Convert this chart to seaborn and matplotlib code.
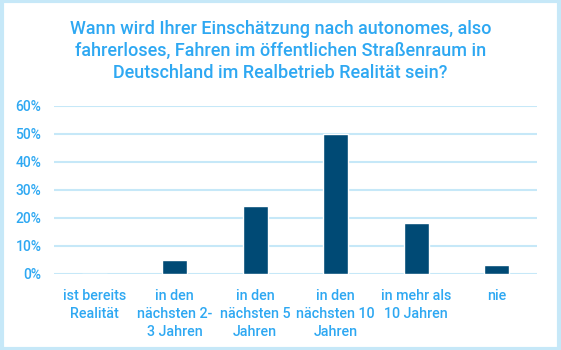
import matplotlib
matplotlib.use("Agg")
import matplotlib.pyplot as plt
import seaborn as sns
import pandas as pd
from matplotlib.patches import Rectangle
from matplotlib.ticker import FuncFormatter

categories = ["ist bereits\nRealität", "in den\nnächsten 2-\n3 Jahren", "in den\nnächsten 5\nJahren",
              "in den\nnächsten 10\nJahren", "in mehr als\n10 Jahren", "nie"]
values = [0, 5, 24, 50, 18, 3]
yticks = [0, 10, 20, 30, 40, 50, 60]
title = ("Wann wird Ihrer Einschätzung nach autonomes, also\n"
         "fahrerloses, Fahren im öffentlichen Straßenraum in\n"
         "Deutschland im Realbetrieb Realität sein?")

sns.set_style("white")
plt.rcParams['font.family'] = ['Roboto', 'DejaVu Sans']

txt = "#2ea8f2"
grid = "#c6e8f8"
bar = "#004a75"

df = pd.DataFrame({"cat": categories, "val": values})
fig = plt.figure(figsize=(5.61, 3.5), dpi=100)
ax = fig.add_axes([54/561, 1-273.5/350, 483/561, 168/350])
sns.barplot(data=df, x="cat", y="val", color=bar, width=0.31, ax=ax, saturation=1)
ax.set_ylim(0, 60)
ax.set_xlim(-0.5, 5.5)
ax.set_yticks(yticks)
ax.yaxis.set_major_formatter(FuncFormatter(lambda v, p: f"{int(v)}%"))
ax.yaxis.grid(True, color=grid, linewidth=1.5)
ax.set_axisbelow(True)
for s in ax.spines.values():
    s.set_visible(False)
ax.tick_params(axis='both', length=0, colors=txt)
ax.tick_params(axis='y', pad=9, labelsize=10)
ax.tick_params(axis='x', pad=11, labelsize=10.3)
for lab in ax.get_xticklabels():
    lab.set_linespacing(1.38)
    lab.set_fontweight("medium")
for lab in ax.get_yticklabels():
    lab.set_fontweight("medium")
for lab in ax.get_yticklabels() + ax.get_xticklabels():
    lab.set_color(txt)
ax.set_xlabel("")
ax.set_ylabel("")
fig.text(0.5, 1-51/350, title, ha="center", va="center", color=txt, fontsize=13,
         linespacing=1.3, fontweight="medium")
fig.patches.append(Rectangle((0.003, 0.004), 0.994, 0.992, transform=fig.transFigure,
                             fill=False, edgecolor=grid, linewidth=3))
fig.savefig("out.png", dpi=100)
